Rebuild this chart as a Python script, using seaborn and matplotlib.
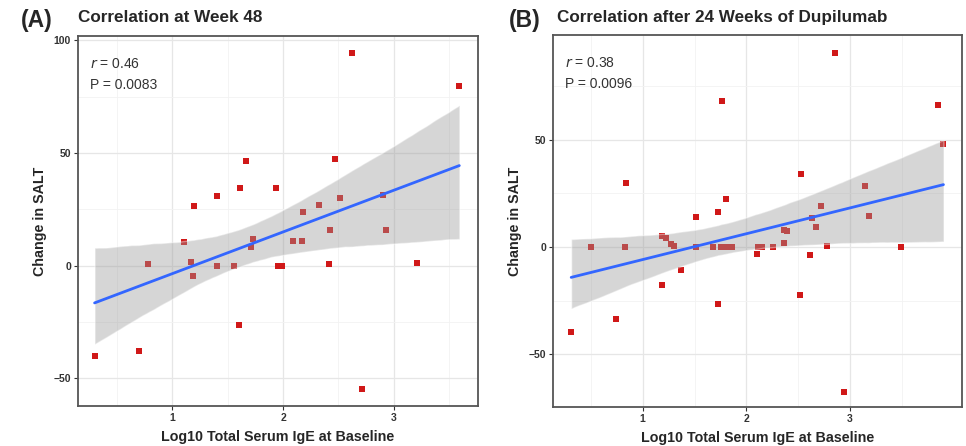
import numpy as np
import pandas as pd
import matplotlib
matplotlib.use("Agg")
import matplotlib.pyplot as plt
import seaborn as sns
from matplotlib.ticker import FixedLocator

# ---------------- data ----------------
x_a = [2.47, 1.67, 1.61, 1.94, 1.40, 1.20, 2.51, 2.32, 2.18, 2.90, 2.42, 2.93,
       1.11, 1.73, 1.71, 2.09, 2.17, 0.78, 1.17, 1.19, 1.40, 1.56, 1.95, 1.99,
       2.41, 3.21, 2.62, 3.59, 1.60, 0.30, 0.70, 2.71]
y_a = [47.4, 46.5, 34.5, 34.5, 30.8, 26.5, 30.0, 27.1, 23.9, 31.3, 16.0, 15.6,
       10.4, 12.0, 8.4, 11.1, 11.1, 0.9, 1.5, -4.6, 0.0, 0.0, 0.0, 0.0,
       0.9, 1.2, 94.4, 79.9, -26.5, -40.1, -37.8, -54.7]

x_b = [2.85, 1.76, 3.85, 3.90, 0.84, 2.53, 3.14, 1.80, 1.73, 1.51, 2.72, 3.18,
       2.63, 2.67, 2.36, 2.39, 1.19, 1.22, 1.27, 1.30, 0.50, 0.83, 1.51, 1.68,
       1.75, 1.80, 1.86, 2.11, 2.15, 2.26, 2.36, 2.78, 3.49, 2.10, 2.61, 1.37,
       1.19, 2.52, 1.73, 0.74, 0.31, 2.94]
y_b = [90.8, 68.1, 66.1, 48.3, 29.8, 34.1, 28.4, 22.4, 16.2, 14.2, 19.0, 14.5,
       13.7, 9.5, 7.8, 7.3, 5.3, 4.4, 1.3, 0.5, 0.0, 0.0, 0.0, 0.0,
       0.0, 0.0, 0.0, 0.0, 0.0, 0.0, 1.9, 0.5, 0.0, -3.4, -3.9, -10.9,
       -17.9, -22.3, -26.5, -33.6, -39.9, -67.6]

panel_letters = ["(A)", "(B)"]
panel_titles = ["Correlation at Week 48", "Correlation after 24 Weeks of Dupilumab"]
stats_r = ["0.46", "0.38"]
stats_p = ["0.0083", "0.0096"]
x_label = "Log10 Total Serum IgE at Baseline"
y_label = "Change in SALT"

# ---------------- style ----------------
sns.set_theme(style="white")
plt.rcParams["font.family"] = ["Liberation Sans", "DejaVu Sans"]

fig = plt.figure(figsize=(9.66, 4.46), dpi=100)
ax_a = fig.add_axes([0.0807, 0.0897, 0.4143, 0.8296])
ax_b = fig.add_axes([0.5725, 0.0870, 0.4235, 0.8345])

panels = [
    (ax_a, x_a, y_a, (0.15, 3.76), (-62.4, 102.0), [-50, 0, 50, 100], [-25, 25, 75]),
    (ax_b, x_b, y_b, (0.135, 4.08), (-74.8, 99.0), [-50, 0, 50], [-75, -25, 25, 75]),
]

for i, (ax, xs, ys, xl, yl, yt, ymin) in enumerate(panels):
    df = pd.DataFrame({"x": xs, "y": ys})
    sns.regplot(data=df, x="x", y="y", ax=ax, ci=95, truncate=True,
                n_boot=4000, seed=1, marker="s",
                scatter_kws={"color": "#d01818", "s": 23, "linewidths": 0,
                             "alpha": 1.0, "zorder": 1},
                line_kws={"color": "#3366FF", "linewidth": 2.0, "zorder": 3})
    # make CI band grey like ggplot geom_smooth
    for coll in ax.collections[1:]:
        coll.set_facecolor("#999999")
        coll.set_alpha(0.4)
        coll.set_zorder(2)
    ax.set_xlim(*xl)
    ax.set_ylim(*yl)
    ax.set_xticks([1, 2, 3])
    ax.set_yticks(yt)
    ax.xaxis.set_minor_locator(FixedLocator([0.5, 1.5, 2.5, 3.5]))
    ax.yaxis.set_minor_locator(FixedLocator(ymin))
    ax.grid(True, which="major", color="#e6e6e6", linewidth=0.9, zorder=0)
    ax.grid(True, which="minor", color="#f2f2f2", linewidth=0.6, zorder=0)
    ax.set_axisbelow(True)
    ax.tick_params(which="major", length=3, width=0.8, color="#333333",
                   labelsize=7.5, pad=2, direction="out", bottom=True, left=True)
    ax.tick_params(which="minor", length=0)
    for lab in ax.get_xticklabels() + ax.get_yticklabels():
        lab.set_fontweight("bold")
        lab.set_color("#333333")
    for sp in ax.spines.values():
        sp.set_visible(True)
        sp.set_color("#555555")
        sp.set_linewidth(1.3)
    ax.set_xlabel(x_label, fontsize=10.3, fontweight="bold", labelpad=5)
    ax.set_ylabel(y_label, fontsize=10.3, fontweight="bold", labelpad=5)
    ax.text(0.03, 0.925, "$\\it{r}$ = " + stats_r[i], transform=ax.transAxes,
            fontsize=10, color="#333333", va="center", ha="left")
    ax.text(0.03, 0.868, "P = " + stats_p[i], transform=ax.transAxes,
            fontsize=10, color="#333333", va="center", ha="left")

fig.text(0.022, 0.955, panel_letters[0], fontsize=16.5, fontweight="bold", va="center", ha="left")
fig.text(0.081, 0.96, panel_titles[0], fontsize=12.3, fontweight="bold", va="center", ha="left")
fig.text(0.527, 0.955, panel_letters[1], fontsize=16.5, fontweight="bold", va="center", ha="left")
fig.text(0.577, 0.96, panel_titles[1], fontsize=12.3, fontweight="bold", va="center", ha="left")

fig.savefig("out.png", dpi=100)
